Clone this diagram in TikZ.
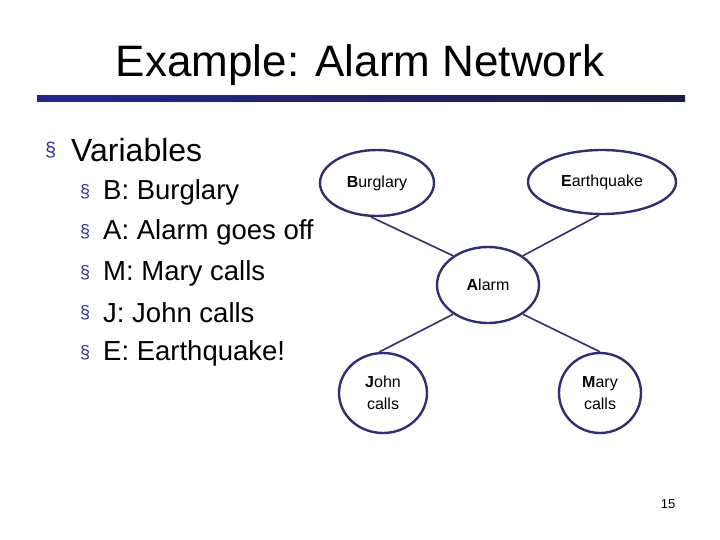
\documentclass[tikz,border=0pt]{standalone}
\usepackage{fontspec}
\setmainfont{Liberation Sans}
\usetikzlibrary{shapes.geometric}
\definecolor{navy}{HTML}{30306E}
\definecolor{bul}{HTML}{333399}
\begin{document}
\begin{tikzpicture}[x=1pt,y=-1pt,
  bn/.style={draw=navy,line width=2.4pt,ellipse,inner sep=0pt,font=\fontsize{16}{22}\selectfont,align=center},
  ln/.style={draw=navy,line width=1.6pt},
  item/.style={anchor=west,font=\fontsize{27.5}{30}\selectfont,inner sep=0pt}]
\useasboundingbox (0,0) rectangle (720,540);
\node (title) at (360,65) {\fontsize{44}{50}\selectfont Example: Alarm Network};
\fill[left color=navy!80!blue,right color=navy!60!black] (37,96) rectangle (685,102);
\node[anchor=west,inner sep=0pt,text=bul,font=\fontsize{20}{24}\selectfont] (b0) at (45,150) {§};
\node[item,font=\fontsize{32}{36}\selectfont] (v) at (71,150) {Variables};
\foreach \y/\t [count=\i] in {192/B: Burglary,232/A: Alarm goes off,273/M: Mary calls,313/J: John calls,353/E: Earthquake!}{
  \node[anchor=west,inner sep=0pt,text=bul,font=\fontsize{18}{20}\selectfont] (s\i) at (80,\y) {§};
  \node[item] (t\i) at (103,\y) {\t};
}
\node[bn,minimum width=114pt,minimum height=66pt] (B) at (377,183) {\textbf{B}urglary};
\node[bn,minimum width=148pt,minimum height=64pt] (E) at (602,182) {\textbf{E}arthquake};
\node[bn,minimum width=102pt,minimum height=76pt] (A) at (488,285) {\textbf{A}larm};
\node[bn,minimum width=88pt,minimum height=80pt] (J) at (383,393) {\textbf{J}ohn\\calls};
\node[bn,minimum width=82pt,minimum height=80pt] (M) at (600,393) {\textbf{M}ary\\calls};
\draw[ln] (B.-100) -- (A.140);
\draw[ln] (E.-95) -- (A.40);
\draw[ln] (A.-140) -- (J.95);
\draw[ln] (A.-40) -- (M.90);
\node (pg) at (668,504) {\fontsize{13}{15}\selectfont 15};
\end{tikzpicture}
\end{document}
